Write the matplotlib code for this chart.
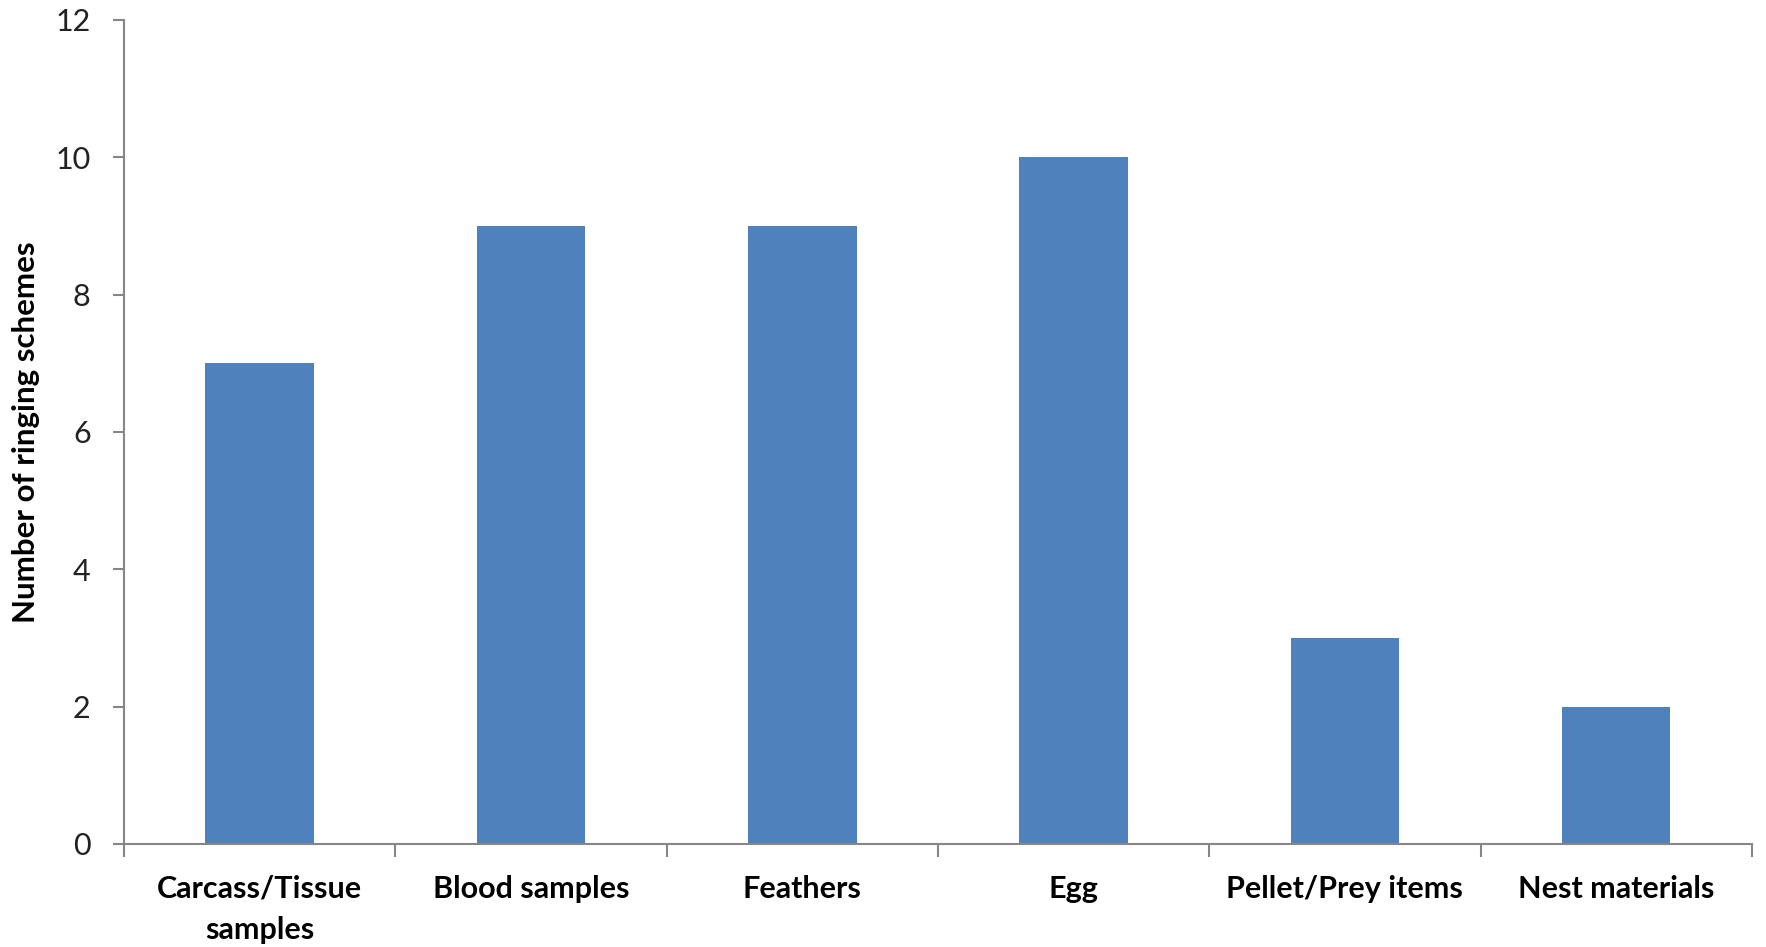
import matplotlib
matplotlib.use('Agg')
import matplotlib.pyplot as plt

categories = ['Carcass/Tissue\nsamples', 'Blood samples', 'Feathers', 'Egg',
              'Pellet/Prey items', 'Nest materials']
counts = [7, 9, 9, 10, 3, 2]
yticks = [0, 2, 4, 6, 8, 10, 12]

plt.rcParams['font.family'] = ['Lato', 'DejaVu Sans']

fig = plt.figure(figsize=(17.66, 9.47), dpi=100)
ax = fig.add_axes([0.0702, 0.1088, 0.9218, 0.8702])

x = list(range(len(categories)))
ax.bar(x, counts, width=0.4, color='#4F81BD', zorder=2)

ax.set_xlim(-0.5, len(categories) - 0.5)
ax.set_ylim(0, 12)
ax.set_yticks(yticks)
ax.set_yticklabels([str(v) for v in yticks], fontsize=22, color='#222222')

ax.set_xticks(x)
ax.set_xticklabels(categories, fontsize=22, fontweight='bold', linespacing=1.6)
ax.set_xticks([i - 0.5 for i in range(len(categories) + 1)], minor=True)
ax.tick_params(axis='x', which='major', length=0, pad=22)
ax.tick_params(axis='x', which='minor', length=9, width=1.5, color='#868686', direction='out')
ax.tick_params(axis='y', length=8, width=1.5, color='#868686', pad=16)

for side in ['top', 'right']:
    ax.spines[side].set_visible(False)
for side in ['left', 'bottom']:
    ax.spines[side].set_color('#868686')
    ax.spines[side].set_linewidth(1.5)

ax.set_ylabel('Number of ringing schemes', fontsize=22.5, fontweight='bold')
ax.yaxis.set_label_coords(-0.0513, 0.5)

fig.savefig('out.png', dpi=100)
